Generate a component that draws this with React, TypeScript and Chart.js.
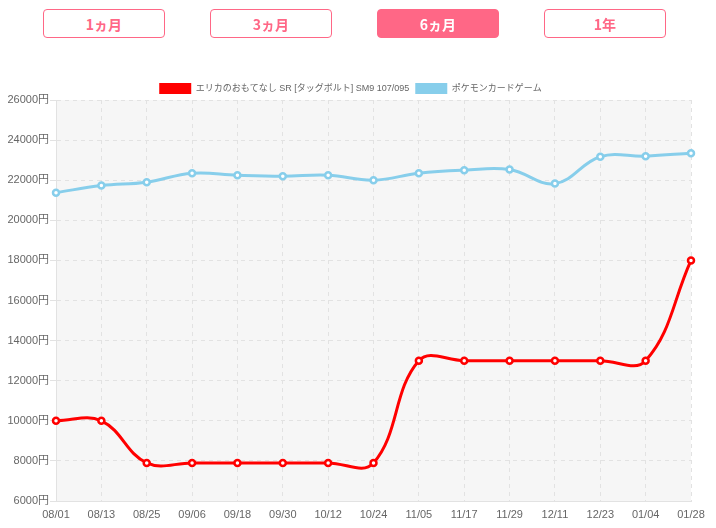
import React, { useEffect, useRef } from "react";
import { Chart, registerables } from "chart.js";

Chart.register(...registerables);

const labels = ["08/01", "08/13", "08/25", "09/06", "09/18", "09/30", "10/12", "10/24", "11/05", "11/17", "11/29", "12/11", "12/23", "01/04", "01/28"];
const cardName = "エリカのおもてなし SR [タッグボルト] SM9 107/095";
const gameName = "ポケモンカードゲーム";
const cardValues = [10000, 10000, 7900, 7900, 7900, 7900, 7900, 7900, 13000, 13000, 13000, 13000, 13000, 13000, 18000];
const gameValues = [21380, 21730, 21900, 22350, 22250, 22200, 22250, 22000, 22350, 22500, 22530, 21830, 23170, 23200, 23350];
const periods = ["1ヵ月", "3ヵ月", "6ヵ月", "1年"];
const activePeriod = "6ヵ月";

const PINK = "#ff6786";
const FONT = "'Liberation Sans', Arial, 'Noto Sans CJK JP', sans-serif";

const bgPlugin = {
  id: "areaBg",
  beforeLayout(chart: any) {
    const lg = chart.legend;
    if (lg && !lg._patchedFit) {
      const origFit = lg.fit.bind(lg);
      lg.fit = function () {
        origFit();
        this.height = 23;
      };
      const origDraw = lg.draw.bind(lg);
      lg.draw = function () {
        const c = this.ctx;
        c.save();
        c.translate(5, 0);
        origDraw();
        c.restore();
      };
      lg._patchedFit = true;
    }
  },
  beforeDraw(chart: any) {
    const { ctx, chartArea } = chart;
    if (!chartArea) return;
    ctx.save();
    ctx.fillStyle = "#f6f6f6";
    ctx.fillRect(chartArea.left, chartArea.top, chartArea.right - chartArea.left, chartArea.bottom - chartArea.top);
    ctx.restore();
  },
};

export default function App() {
  const ref = useRef<HTMLCanvasElement | null>(null);

  useEffect(() => {
    document.body.style.margin = "0";
    if (!ref.current) return;
    const gridColor = "#e2e2e2";
    const chart = new Chart(ref.current, {
      type: "line",
      data: {
        labels,
        datasets: [
          {
            label: cardName,
            data: cardValues,
            borderColor: "#ff0000",
            backgroundColor: "#ff0000",
            pointBackgroundColor: "#ffffff",
            pointBorderColor: "#ff0000",
            borderWidth: 3,
            pointRadius: 3,
            pointBorderWidth: 2.5,
            tension: 0.4,
            fill: false,
          },
          {
            label: gameName,
            data: gameValues,
            borderColor: "#87ceeb",
            backgroundColor: "#87ceeb",
            pointBackgroundColor: "#ffffff",
            pointBorderColor: "#87ceeb",
            borderWidth: 3,
            pointRadius: 3,
            pointBorderWidth: 2.5,
            tension: 0.4,
            fill: false,
          },
        ],
      },
      options: {
        animation: false,
        responsive: false,
        maintainAspectRatio: false,
        layout: { padding: { top: 77, right: 25, bottom: 0, left: 0 } },
        plugins: {
          legend: {
            labels: {
              boxWidth: 32,
              boxHeight: 11,
              padding: 6,
              color: "#666",
              font: { size: 9, family: FONT },
              generateLabels(chart: any) {
                const items = Chart.defaults.plugins.legend.labels.generateLabels(chart);
                return items.map((it: any) => ({ ...it, lineWidth: 0 }));
              },
            },
          },
          tooltip: { enabled: false },
        },
        scales: {
          x: {
            grid: { color: gridColor, tickLength: 0, drawTicks: false },
            border: { dash: [4, 4], color: gridColor },
            ticks: { color: "#666", font: { size: 11, family: FONT }, padding: 7, maxRotation: 0, autoSkip: false },
            afterFit(scale: any) {
              scale.height = 27;
            },
          },
          y: {
            min: 6000,
            max: 26000,
            grid: { color: gridColor, tickLength: 6 },
            border: { dash: [4, 4], color: gridColor },
            ticks: {
              stepSize: 2000,
              color: "#666",
              font: { size: 11, family: FONT },
              padding: 1,
              callback: (v: any) => v + "円",
            },
            afterFit(scale: any) {
              scale.width = 56;
            },
          },
        },
      } as any,
      plugins: [bgPlugin],
    });
    return () => chart.destroy();
  }, []);

  return (
    <div style={{ position: "fixed", left: 0, top: 0, width: 716, height: 528, background: "#fff" }}>
      <canvas ref={ref} width={716} height={528} style={{ position: "absolute", left: 0, top: 0, width: 716, height: 528 }} />
      {periods.map((p, i) => {
        const active = p === activePeriod;
        return (
          <div
            key={p}
            style={{
              position: "absolute",
              left: 43 + i * 167,
              top: 9,
              width: 122,
              height: 29,
              boxSizing: "border-box",
              border: `1px solid ${PINK}`,
              borderRadius: 4,
              background: active ? PINK : "#fff",
              color: active ? "#fff" : PINK,
              fontFamily: "'Noto Sans CJK JP', sans-serif",
              fontWeight: 700,
              fontSize: 14,
              display: "flex",
              alignItems: "center",
              justifyContent: "center",
            }}
          >
            {p}
          </div>
        );
      })}
    </div>
  );
}
